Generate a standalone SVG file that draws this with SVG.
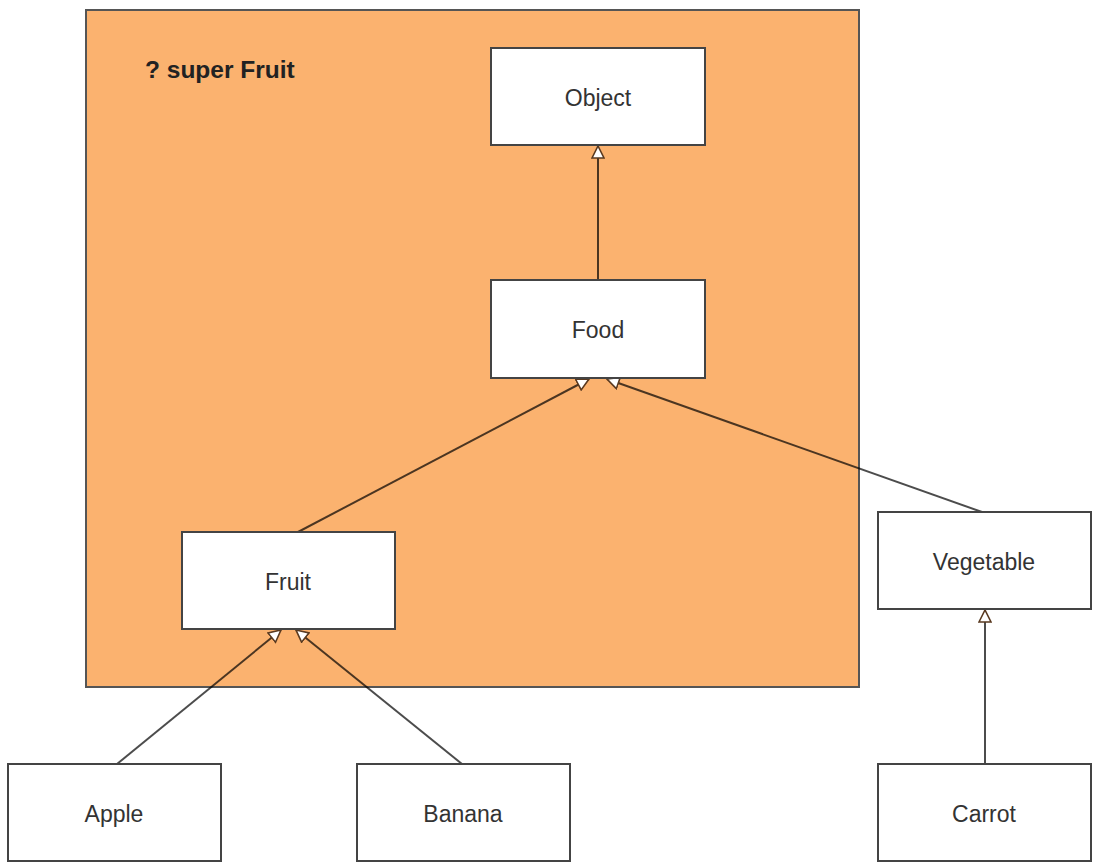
<svg xmlns="http://www.w3.org/2000/svg" width="1102" height="868" viewBox="0 0 1102 868">
<style>
.node rect{fill:#fff;stroke:#444;stroke-width:2}
.node text{font-family:"Liberation Sans",Arial,sans-serif;font-size:23px;fill:#333;text-anchor:middle;dominant-baseline:central}
.conn line{stroke:#000;stroke-opacity:0.7;stroke-width:2;fill:none}
</style>
<defs>
<marker id="tri" markerUnits="userSpaceOnUse" markerWidth="14" markerHeight="14" viewBox="0 0 14 14" refX="13" refY="7" orient="auto">
<path d="M1,1 L13,7 L1,13 Z" fill="#fff" stroke="#5a3a20" stroke-width="1.6"/>
</marker>
</defs>
<rect width="1102" height="868" fill="#fff"/>
<g id="region">
<rect x="86" y="10" width="773" height="677" fill="#FBB26F" stroke="#555" stroke-width="2"/>
<text x="145" y="78" font-family="Liberation Sans,Arial,sans-serif" font-size="24.5" font-weight="bold" fill="#222">? super Fruit</text>
</g>
<g class="conn" id="connectors">
<line x1="598" y1="280" x2="598" y2="146" marker-end="url(#tri)"/>
<line x1="298" y1="532" x2="589" y2="379" marker-end="url(#tri)"/>
<line x1="982" y1="512" x2="607" y2="379" marker-end="url(#tri)"/>
<line x1="117" y1="764" x2="281" y2="630" marker-end="url(#tri)"/>
<line x1="462" y1="764" x2="296" y2="630" marker-end="url(#tri)"/>
<line x1="985" y1="764" x2="985" y2="610" marker-end="url(#tri)"/>
</g>
<g class="node" id="object"><rect x="491" y="48" width="214" height="97"/><text x="598" y="98">Object</text></g>
<g class="node" id="food"><rect x="491" y="280" width="214" height="98"/><text x="598" y="330">Food</text></g>
<g class="node" id="fruit"><rect x="182" y="532" width="213" height="97"/><text x="288" y="582">Fruit</text></g>
<g class="node" id="vegetable"><rect x="878" y="512" width="213" height="97"/><text x="984" y="562">Vegetable</text></g>
<g class="node" id="apple"><rect x="8" y="764" width="213" height="97"/><text x="114" y="814">Apple</text></g>
<g class="node" id="banana"><rect x="357" y="764" width="213" height="97"/><text x="463" y="814">Banana</text></g>
<g class="node" id="carrot"><rect x="878" y="764" width="213" height="97"/><text x="984" y="814">Carrot</text></g>
</svg>
